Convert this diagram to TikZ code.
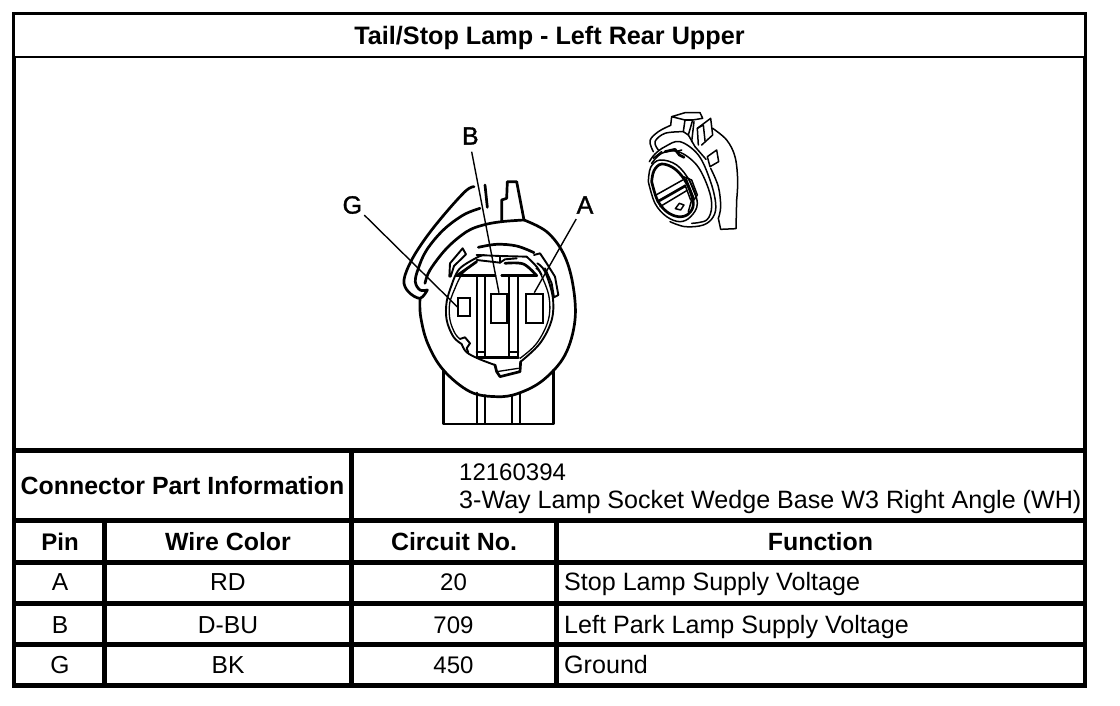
\documentclass[tikz,border=0pt]{standalone}
\usepackage{fontspec}
\setmainfont{Liberation Sans}
\newfontface\calloutface[FakeBold=1.3]{Liberation Sans}
\tikzset{
  rule/.style={line width=4.6pt,line cap=butt},
  thinrule/.style={line width=2.6pt,line cap=butt},
  cell/.style={anchor=base,inner sep=0pt,font=\fontsize{24.6}{28}\selectfont},
  numcell/.style={cell,font=\fontsize{24}{28}\selectfont},
  head/.style={cell,font=\fontsize{24.9}{28}\selectfont\bfseries},
  ltxt/.style={anchor=base west,inner sep=0pt,font=\fontsize{25.1}{28}\selectfont},
  numtxt/.style={anchor=base west,inner sep=0pt,font=\fontsize{24}{28}\selectfont},
  pinbox/.style={draw=black,line width=1.9pt,fill=white,inner sep=0pt,anchor=north west},
  callout/.style={inner sep=0pt,font=\calloutface\fontsize{25}{28}\selectfont},
  leader/.style={line width=1.4pt},
  art/.style={line width=1.9pt,line join=round,line cap=round},
  fine/.style={line width=1.3pt,line join=round,line cap=round},
  heavy/.style={line width=2.7pt,line join=round,line cap=round},
  pers/.style={line width=1.5pt,line join=round,line cap=round}
}
\begin{document}
\begin{tikzpicture}[x=1pt,y=-1pt]
\useasboundingbox (0,0) rectangle (1120,706);
\fill[white] (0,0) rectangle (1120,706);
% frame
\draw[thinrule] (13,13.5) -- (1085.5,13.5);
\draw[thinrule] (13,57) -- (1085.5,57);
\draw[thinrule] (13.2,12.2) -- (13.2,58);
\draw[thinrule] (1085.7,12.2) -- (1085.7,58);
\draw[rule] (14,56) -- (14,688);
\draw[rule] (1084.8,56) -- (1084.8,688);
\foreach \yy in {450.3,520.5,562.3,603.5,644.3,685.3}{\draw[rule] (12,\yy) -- (1087,\yy);}
\draw[rule] (351.3,450) -- (351.3,685);
\draw[rule] (104.3,520) -- (104.3,685);
\draw[rule] (556.7,520) -- (556.7,685);
% texts
\node[head,font=\fontsize{25.2}{28}\selectfont\bfseries] (title) at (549.5,44.6) {Tail/Stop Lamp - Left Rear Upper};
\node[head] (cpi) at (182.5,494) {Connector Part Information};
\node[numtxt] (pn) at (459,480) {12160394};
\node[ltxt] (pd) at (459,508.7) {3-Way Lamp Socket Wedge Base W3 Right Angle (WH)};
\node[head,font=\fontsize{24}{28}\selectfont\bfseries] (h1) at (60,550) {Pin};
\node[head] (h2) at (228,550) {Wire Color};
\node[head] (h3) at (454,550) {Circuit No.};
\node[head] (h4) at (820.5,550) {Function};
\node[cell] (a1) at (60,590.6) {A};
\node[cell] (a2) at (228,590.6) {RD};
\node[numcell] (a3) at (453.5,590.6) {20};
\node[ltxt] (a4) at (564,590.6) {Stop Lamp Supply Voltage};
\node[cell] (b1) at (60,633) {B};
\node[cell] (b2) at (228,633) {D-BU};
\node[numcell] (b3) at (453.5,633) {709};
\node[ltxt] (b4) at (564,633) {Left Park Lamp Supply Voltage};
\node[cell] (g1) at (60,673.5) {G};
\node[cell] (g2) at (228,673.5) {BK};
\node[numcell] (g3) at (453.5,673.5) {450};
\node[ltxt] (g4) at (564,673.5) {Ground};
% connector front view
\begin{scope}[shift={(330,120)},x=0.33333pt,y=-0.33333pt]
 % body
 \draw[heavy] plot[smooth,tension=0.6] coordinates {(582,300)(650,335)(700,400)(728,490)(735,600)(705,705)(640,780)(565,820)(500,830)(420,815)(340,750)(293,670)(272,590)(270,535)};
 % tab
 \draw[heavy] (515,302) -- (515,240) -- (530,235) -- (532,185) -- (560,185) -- (582,300);
 % body ring through tab base
 \draw[heavy] plot[smooth,tension=0.6] coordinates {(285,490)(300,450)(350,385)(410,335)(460,315)(515,305)(582,300)};
 % hook
 \draw[heavy] plot[smooth,tension=0.6] coordinates {(432,200)(408,212)(350,275)(290,350)(245,420)(222,480)(235,515)(270,535)(292,510)};
 \draw[heavy] plot[smooth,tension=0.6] coordinates {(450,265)(400,285)(340,330)(290,390)(265,445)(256,485)(270,510)(292,510)};
 \draw[heavy] (465,195) -- (472,262);
 % bottom housing
 \draw[heavy] (340,750) -- (340,912) -- (670,912) -- (670,750);
 \draw[art] (440,818) -- (440,912);
 \draw[art] (465,825) -- (465,912);
 \draw[art] (545,825) -- (545,912);
 \draw[art] (570,818) -- (570,912);
 % socket rim
 \draw[heavy] plot[smooth,tension=0.6] coordinates {(445,382)(500,373)(560,378)(612,398)};
 \draw[art] plot[smooth,tension=0.6] coordinates {(365,495)(350,545)(350,600)(370,650)(395,672)};
 \draw[fine] plot[smooth,tension=0.6] coordinates {(375,505)(359,550)(360,600)(375,640)(390,657)};
 \draw[art] (390,657) -- (405,652) -- (420,670) -- (410,685) -- (415,697);
 \draw[art] plot[smooth,tension=0.6] coordinates {(395,672)(410,697)(450,718)(495,735)};
 \draw[heavy] (495,735) -- (500,755) -- (510,770) -- (570,755) -- (572,725);
 \draw[fine] (500,755) -- (565,745);
 \draw[art] plot[smooth,tension=0.6] coordinates {(572,725)(630,670)(665,600)(668,530)(645,455)(622,430)};
 \draw[fine] plot[smooth,tension=0.6] coordinates {(570,715)(620,670)(655,600)(657,530)(632,462)(618,445)};
 % tabs on rim
 \draw[art] (358,470) -- (360,430) -- (398,385) -- (408,403) -- (372,438) -- (362,470);
 \draw[art] (612,405) -- (630,400) -- (650,430) -- (675,470) -- (685,525) -- (672,532) -- (665,490) -- (645,445);
 % arcs over the blade
 \draw[art] plot[smooth,tension=0.6] coordinates {(365,495)(388,447)(440,413)(462,405)};
 \draw[fine] plot[smooth,tension=0.6] coordinates {(375,505)(398,460)(440,425)};
 \draw[art] (440,405) -- (510,408) -- (510,428);
 \draw[art] (440,420) -- (510,428) -- (525,418) -- (560,415);
 \draw[art] (510,408) -- (590,410);
 \draw[art] plot[smooth,tension=0.6] coordinates {(590,410)(620,440)(635,465)};
 \draw[heavy] plot[smooth,tension=0.6] coordinates {(380,467)(402,452)(440,425)};
 \draw[heavy] plot[smooth,tension=0.6] coordinates {(525,430)(580,432)(620,467)};
 % T blades
 \draw[heavy] (380,467) -- (495,467);
 \draw[heavy] (515,467) -- (620,467);
 \draw[art] (440,467) -- (440,712);
 \draw[art] (465,467) -- (465,712);
 \draw[art] (537,467) -- (537,712);
 \draw[art] (565,467) -- (565,712);
 \draw[heavy] (440,712) -- (565,712);
 \draw[art] (440,695) -- (465,695);
 \draw[art] (537,695) -- (565,695);
 % pins
 \node[pinbox,minimum width=12pt,minimum height=18.5pt] (pinG) at (382,530) {};
 \node[pinbox,minimum width=16pt,minimum height=29pt] (pinB) at (480,518) {};
 \node[pinbox,minimum width=16.7pt,minimum height=29pt] (pinA) at (585,518) {};
 % labels and leaders
 \node[callout] (lblG) at (67,255) {G};
 \node[callout] (lblB) at (421,48) {B};
 \node[callout] (lblA) at (765,255) {A};
 \draw[leader] ([xshift=2pt,yshift=-1pt]lblG.south east) -- (pinG.west);
 \draw[leader,shorten <=7pt] (lblB.south) -- (pinB.north);
 \draw[leader,shorten <=6pt] ([xshift=2.7pt]lblA.south west) -- (pinA.north);
\end{scope}
% perspective view
\begin{scope}[shift={(620,100)},x=0.33333pt,y=-0.33333pt]
 % ring outlines
 \draw[pers] plot[smooth,tension=0.6] coordinates {(88,185)(105,162)(135,140)(180,125)(235,165)(270,240)(287,310)(280,350)(250,375)(195,380)(150,365)};
 \draw[pers] plot[smooth,tension=0.6] coordinates {(95,190)(125,160)(175,155)(230,195)(265,265)(275,320)(260,360)(215,370)};
 \draw[pers] plot[smooth,tension=0.6] coordinates {(85,245)(92,202)(120,180)(170,195)(210,245)(232,310)(212,350)(180,365)(140,350)(105,310)(85,245)};
 \draw[heavy] plot[smooth,tension=0.6] coordinates {(95,245)(102,212)(125,192)(165,207)(200,250)(220,310)(205,342)(175,350)(140,335)(112,300)(95,245)};
 % hood
 \draw[pers] plot[smooth,tension=0.6] coordinates {(100,155)(90,122)(115,95)(152,76)};
 \draw[pers] plot[smooth,tension=0.6] coordinates {(115,150)(105,125)(135,100)(190,95)};
 \draw[pers] (152,76) -- (155,50) -- (195,38) -- (240,38) -- (248,55) -- (218,60) -- (205,105) -- (190,95) -- (195,60) -- (155,50);
 \draw[pers] (195,60) -- (218,60);
 % right tabs
 \draw[pers] (235,135) -- (232,85) -- (272,55) -- (278,105) -- (245,135);
 \draw[pers] (222,65) -- (215,125);
 \draw[pers] (232,85) -- (250,75) -- (255,122);
 \draw[pers] (262,170) -- (290,150) -- (296,185) -- (270,200) -- (262,170);
 \draw[pers] (225,140) -- (258,178);
 \draw[pers] (205,105) -- (225,140);
 % body
 \draw[pers] plot[smooth,tension=0.6] coordinates {(278,85)(320,120)(345,170)(353,240)(350,300)};
 \draw[pers] (350,300) -- (348,386) -- (302,388) -- (295,355);
 \draw[pers] plot[smooth,tension=0.6] coordinates {(272,205)(295,260)(302,320)(295,355)};
 % bracket bits
 \draw[heavy] (135,155) -- (165,148) -- (178,165) -- (192,172);
 \draw[pers] (168,155) -- (185,150);
 \draw[pers] (100,175) -- (125,155);
 % blade
 \draw[pers] (108,285) -- (188,240);
 \draw[heavy] (113,305) -- (195,258);
 \draw[pers] (120,320) -- (200,272);
 \draw[pers] (190,230) -- (215,240) -- (232,285) -- (222,300);
 \draw[pers] (198,235) -- (222,295);
 \draw[pers] (206,235) -- (228,290);
 \draw[pers] (195,255) -- (212,300);
 \draw[pers] (215,300) -- (205,335);
 \draw[pers] (166,326) -- (178,310) -- (192,315) -- (182,330) -- (166,326);
\end{scope}
\end{tikzpicture}
\end{document}
